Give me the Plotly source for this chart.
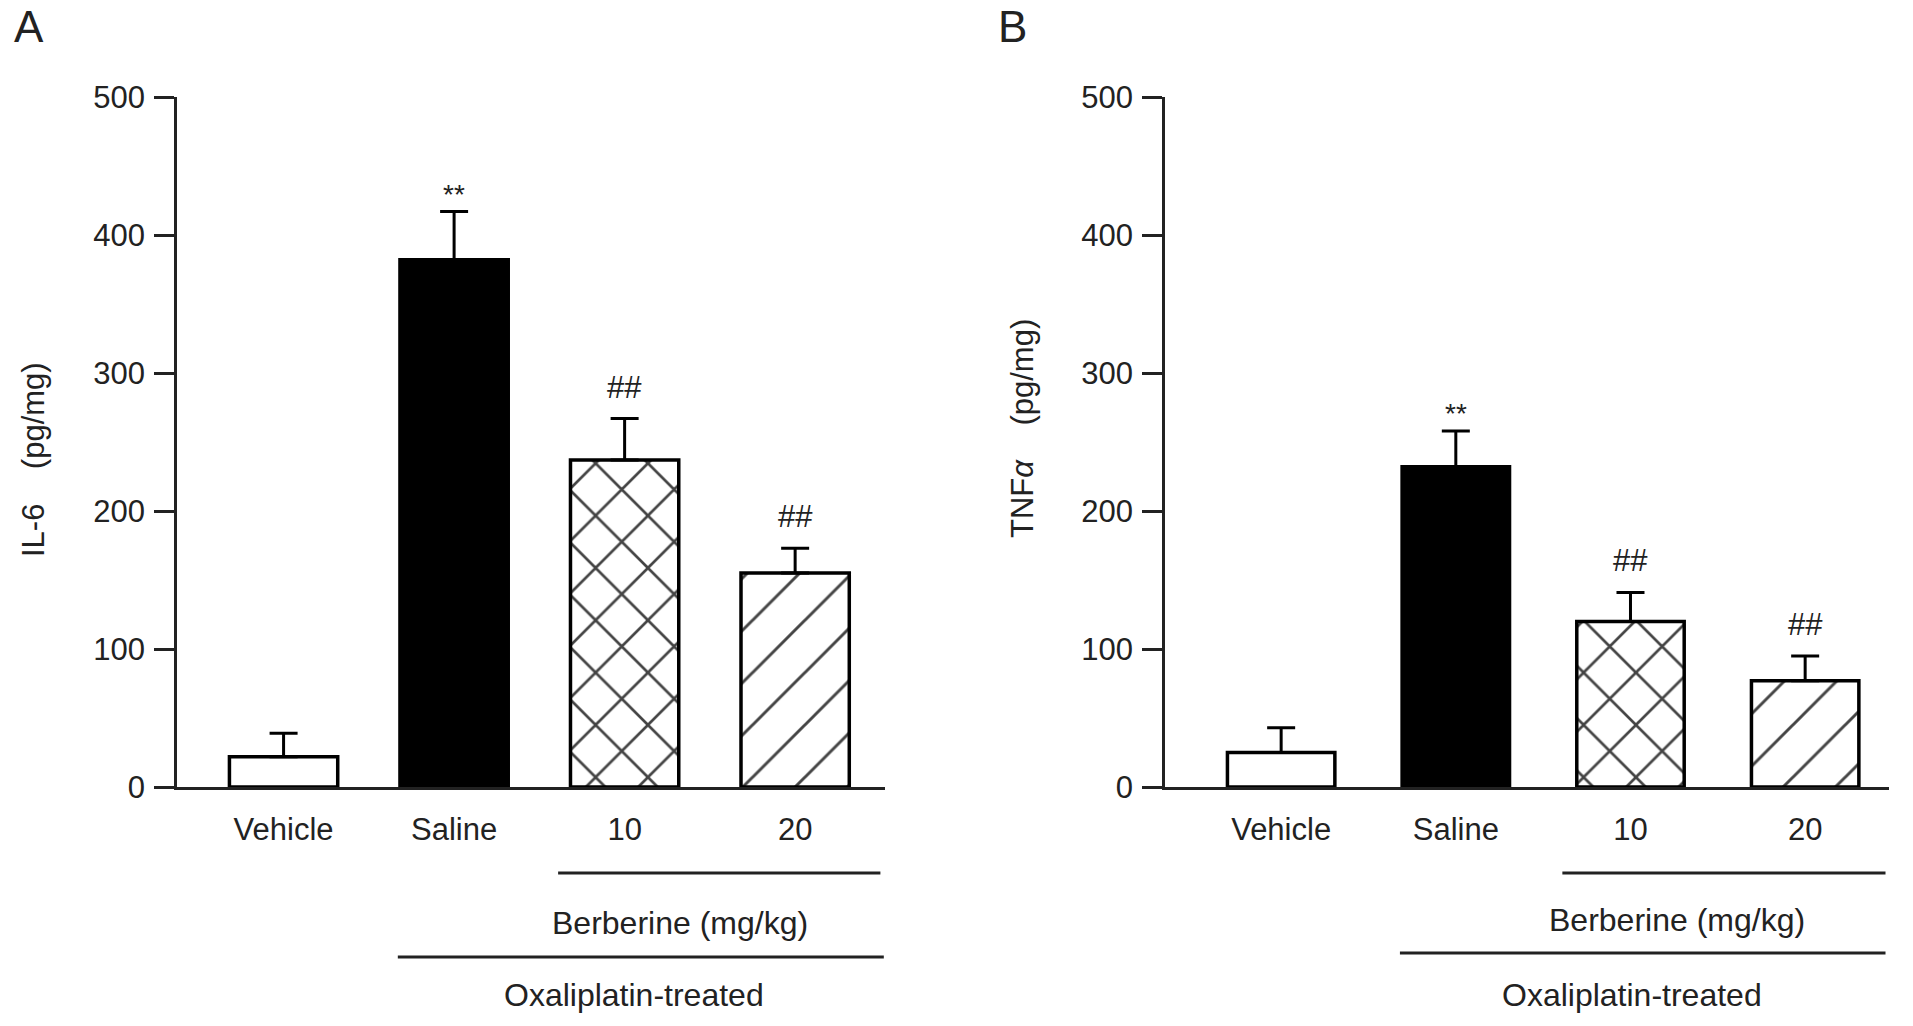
import plotly.graph_objects as go

# data
groups = ["Vehicle", "Saline", "10", "20"]

il6_mean = [22, 382, 237, 155]
il6_sem = [17, 35, 30, 18]
il6_sig = ["", "**", "##", "##"]

tnf_mean = [25, 232, 120, 77]
tnf_sem = [18, 26, 21, 18]
tnf_sig = ["", "**", "##", "##"]

y_ticks = [0, 100, 200, 300, 400, 500]

W, H = 1913, 1026
FONT = "Liberation Sans, Arial, Helvetica, sans-serif"
bar_colors = ["white", "black", "white", "white"]
hatch = ["", "", "x", "/"]
hatch_solidity = [0.1, 0.1, 0.14, 0.08]


def bar_trace(means, sems, xa, ya, width):
    return go.Bar(
        x=groups, y=means, xaxis=xa, yaxis=ya, width=width,
        marker=dict(
            color=bar_colors,
            line=dict(color="black", width=3.5),
            pattern=dict(shape=hatch, fgcolor="black", fgopacity=1,
                         fillmode="overlay", size=37, solidity=hatch_solidity),
        ),
        error_y=dict(type="data", array=sems, arrayminus=[0] * len(sems),
                     symmetric=False, color="black", thickness=3, width=14),
        showlegend=False, hoverinfo="skip",
    )


fig = go.Figure()
fig.add_trace(bar_trace(il6_mean, il6_sem, "x", "y", 0.635))
fig.add_trace(bar_trace(tnf_mean, tnf_sem, "x2", "y2", 0.615))

yax = dict(range=[0, 500], tickvals=y_ticks, showline=True, linewidth=2.5,
           linecolor="#222", ticks="outside", ticklen=20, tickwidth=2.5,
           tickcolor="#222", showgrid=False, zeroline=False,
           tickfont=dict(size=31, color="#222"), ticklabelstandoff=3,
           domain=[1 - 787 / H, 1 - 97 / H])
xax = dict(type="category", showline=True, linewidth=2.5, linecolor="#222",
           ticks="", showgrid=False, zeroline=False,
           tickfont=dict(size=31, color="#222"), ticklabelstandoff=13)

fig.update_layout(
    width=W, height=H, margin=dict(l=0, r=0, t=0, b=0, autoexpand=False),
    plot_bgcolor="white", paper_bgcolor="white",
    font=dict(family=FONT, color="#222"),
    xaxis=dict(xax, domain=[177 / W, 885 / W], range=[-0.625, 3.527], anchor="y"),
    yaxis=dict(yax, anchor="x"),
    xaxis2=dict(xax, domain=[1165 / W, 1889 / W], range=[-0.665, 3.48], anchor="y2"),
    yaxis2=dict(yax, anchor="x2"),
)

annotations = []
for xa, ya, means, sems, sig in [("x", "y", il6_mean, il6_sem, il6_sig),
                                  ("x2", "y2", tnf_mean, tnf_sem, tnf_sig)]:
    for i, (m, s, t) in enumerate(zip(means, sems, sig)):
        if not t:
            continue
        star = t == "**"
        annotations.append(dict(
            x=i, y=m + s, xref=xa, yref=ya, text=t, showarrow=False,
            yanchor="bottom", yshift=0 if star else 12,
            font=dict(size=28 if star else 31, color="#222")))

# panel letters and y titles
annotations += [
    dict(x=12 / W, y=1, xref="paper", yref="paper", text="A",
         showarrow=False, xanchor="left", yanchor="top", font=dict(size=44)),
    dict(x=996 / W, y=1, xref="paper", yref="paper", text="B",
         showarrow=False, xanchor="left", yanchor="top", font=dict(size=44)),
    dict(x=33 / W, y=1 - 460 / H, xref="paper", yref="paper",
         xanchor="center", yanchor="middle",
         text="IL-6\u00a0\u00a0\u00a0\u00a0(pg/mg)", textangle=-90,
         showarrow=False, font=dict(size=31)),
    dict(x=1022 / W, y=1 - 428 / H, xref="paper", yref="paper",
         xanchor="center", yanchor="middle",
         text="TNF<i>\u03b1</i>\u00a0\u00a0\u00a0\u00a0(pg/mg)", textangle=-90,
         showarrow=False, font=dict(size=31)),
]

# group brackets under the x axis
shapes = []
for xa, berb, oxa in [("x", (1.61, 3.50, 873, 680 - 283.6, 923),
                       (0.67, 3.52, 957, 634 - 283.6, 995)),
                      ("x2", (1.61, 3.46, 873, 1677 - 1281.1, 920),
                       (0.68, 3.46, 953, 1632 - 1281.1, 995))]:
    step = 170.5 if xa == "x" else 174.55
    for (x0, x1, ly, tx, ty), label in [(berb, "Berberine (mg/kg)"),
                                        (oxa, "Oxaliplatin-treated")]:
        shapes.append(dict(type="line", xref=xa, yref="paper", x0=x0, x1=x1,
                           y0=1 - ly / H, y1=1 - ly / H,
                           line=dict(color="#222", width=3)))
        annotations.append(dict(x=tx / step, y=1 - ty / H, xref=xa, yref="paper",
                                xanchor="center", yanchor="middle",
                                text=label, showarrow=False,
                                font=dict(size=32, color="#222")))

fig.update_layout(annotations=annotations, shapes=shapes)

fig.write_html("out.html", config={"displayModeBar": False},
               post_script="document.body.style.margin='0';")
